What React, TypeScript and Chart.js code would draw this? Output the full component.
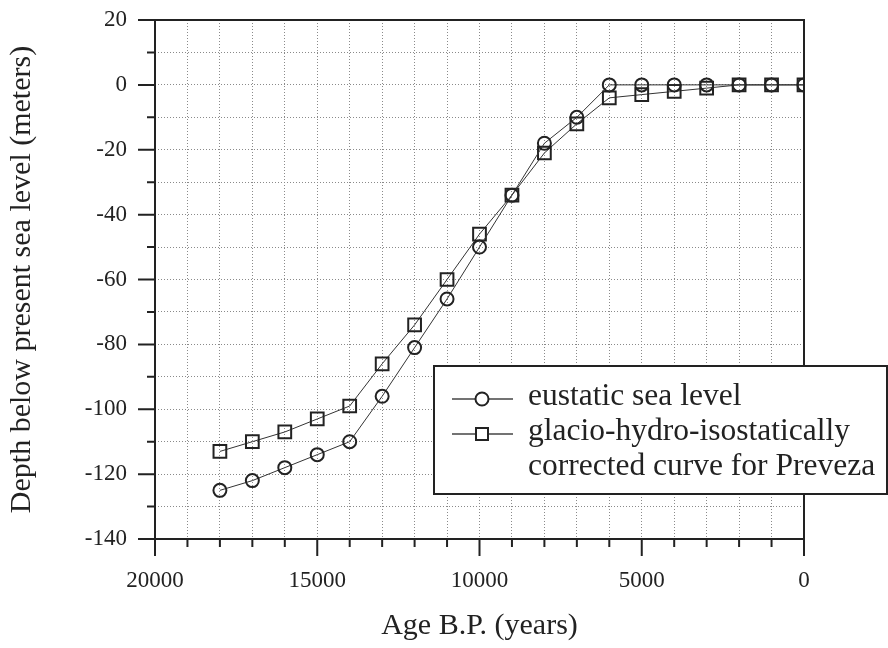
import React, { useEffect, useRef } from 'react';
import { Chart, registerables } from 'chart.js';

Chart.register(...registerables);

const ages = [18000, 17000, 16000, 15000, 14000, 13000, 12000, 11000, 10000, 9000, 8000, 7000, 6000, 5000, 4000, 3000, 2000, 1000, 0];
const eustatic = [-125, -122, -118, -114, -110, -96, -81, -66, -50, -34, -18, -10, 0, 0, 0, 0, 0, 0, 0];
const corrected = [-113, -110, -107, -103, -99, -86, -74, -60, -46, -34, -21, -12, -4, -3, -2, -1, 0, 0, 0];
const xTickLabels = [20000, 15000, 10000, 5000, 0];
const yTickLabels = [20, 0, -20, -40, -60, -80, -100, -120, -140];
const seriesLabels = ['eustatic sea level', 'glacio-hydro-isostatically\ncorrected curve for Preveza'];
const xTitle = 'Age B.P. (years)';
const yTitle = 'Depth below present sea level (meters)';

const FONT = '"Liberation Serif", "Times New Roman", serif';
const INK = '#222';

const framePlugin = {
  id: 'frame',
  afterDatasetsDraw(chart: any) {
    const { ctx, chartArea: a, scales } = chart;
    ctx.save();
    ctx.strokeStyle = INK;
    ctx.lineWidth = 2;
    ctx.strokeRect(a.left, a.top, a.right - a.left, a.bottom - a.top);
    ctx.beginPath();
    scales.x.ticks.forEach((t: any) => {
      const px = scales.x.getPixelForValue(t.value);
      const len = xTickLabels.includes(t.value) ? 17 : 8;
      ctx.moveTo(px, a.bottom);
      ctx.lineTo(px, a.bottom + len);
    });
    scales.y.ticks.forEach((t: any) => {
      const py = scales.y.getPixelForValue(t.value);
      const len = yTickLabels.includes(t.value) ? 17 : 8;
      ctx.moveTo(a.left, py);
      ctx.lineTo(a.left - len, py);
    });
    ctx.stroke();
    ctx.restore();
  },
};

const legendPlugin = {
  id: 'boxLegend',
  afterDraw(chart: any) {
    const { ctx } = chart;
    const box = { left: 434, top: 366, right: 887, bottom: 494 };
    ctx.save();
    ctx.fillStyle = '#fff';
    ctx.fillRect(box.left, box.top, box.right - box.left, box.bottom - box.top);
    ctx.strokeStyle = INK;
    ctx.lineWidth = 2;
    ctx.strokeRect(box.left, box.top, box.right - box.left, box.bottom - box.top);
    ctx.font = `31.5px ${FONT}`;
    ctx.fillStyle = INK;
    ctx.textBaseline = 'middle';
    ctx.textAlign = 'left';
    let row = 0;
    const rowY = (r: number) => 397 + r * 35;
    chart.data.datasets.forEach((ds: any) => {
      const lines = String(ds.label).split('\n');
      const my = rowY(row) + 2;
      ctx.strokeStyle = '#444';
      ctx.lineWidth = 1.5;
      ctx.beginPath();
      ctx.moveTo(452, my);
      ctx.lineTo(513, my);
      ctx.stroke();
      ctx.strokeStyle = INK;
      ctx.lineWidth = 2;
      ctx.fillStyle = '#fff';
      ctx.beginPath();
      if (ds.pointStyle === 'rect') {
        ctx.rect(482 - 6, my - 6, 12, 12);
      } else {
        ctx.arc(482, my, 6.5, 0, Math.PI * 2);
      }
      ctx.fill();
      ctx.stroke();
      ctx.fillStyle = INK;
      lines.forEach((ln: string) => {
        ctx.fillText(ln, 528, rowY(row));
        row += 1;
      });
    });
    ctx.restore();
  },
};

export default function App() {
  const ref = useRef<HTMLCanvasElement | null>(null);
  useEffect(() => {
    if (!ref.current) return;
    const chart = new Chart(ref.current, {
      type: 'line',
      data: {
        datasets: [
          {
            label: seriesLabels[0],
            data: ages.map((a, i) => ({ x: a, y: eustatic[i] })),
            borderColor: '#333',
            borderWidth: 1,
            pointStyle: 'circle',
            pointRadius: 6.5,
            pointBorderWidth: 2,
            pointBorderColor: INK,
            pointBackgroundColor: 'rgba(0,0,0,0)',
            tension: 0,
          },
          {
            label: seriesLabels[1],
            data: ages.map((a, i) => ({ x: a, y: corrected[i] })),
            borderColor: '#333',
            borderWidth: 1,
            pointStyle: 'rect',
            pointRadius: 9,
            pointBorderWidth: 2,
            pointBorderColor: INK,
            pointBackgroundColor: 'rgba(0,0,0,0)',
            tension: 0,
          },
        ],
      },
      options: {
        responsive: false,
        animation: false,
        layout: { padding: { left: 0, top: 20, right: 84, bottom: 0 } },
        plugins: { legend: { display: false }, tooltip: { enabled: false } },
        scales: {
          x: {
            type: 'linear',
            reverse: true,
            min: 0,
            max: 20000,
            afterFit(scale: any) {
              scale.height = 109;
              scale.paddingLeft = 0;
              scale.paddingRight = 0;
            },
            ticks: {
              stepSize: 1000,
              autoSkip: false,
              maxRotation: 0,
              padding: 28,
              color: INK,
              font: { family: FONT, size: 23 },
              callback: (v: any) => (xTickLabels.includes(Number(v)) ? String(v) : ''),
            },
            grid: { color: '#8a8a8a', lineWidth: 1, drawTicks: false },
            border: { display: false, dash: [1, 2] },
            title: {
              display: true,
              text: xTitle,
              color: INK,
              font: { family: FONT, size: 30 },
              padding: { top: 0, bottom: 4 },
            },
          },
          y: {
            type: 'linear',
            min: -140,
            max: 20,
            afterFit(scale: any) {
              scale.width = 155;
              scale.paddingTop = 0;
              scale.paddingBottom = 0;
            },
            ticks: {
              stepSize: 10,
              autoSkip: false,
              padding: 28,
              color: INK,
              font: { family: FONT, size: 23 },
              callback: (v: any) => (yTickLabels.includes(Number(v)) ? String(v) : ''),
            },
            grid: { color: '#8a8a8a', lineWidth: 1, drawTicks: false },
            border: { display: false, dash: [1, 2] },
            title: {
              display: true,
              text: yTitle,
              color: INK,
              font: { family: FONT, size: 30 },
              padding: { top: 4, bottom: 0 },
            },
          },
        },
      },
      plugins: [framePlugin, legendPlugin],
    });
    return () => chart.destroy();
  }, []);
  return (
    <div style={{ position: 'absolute', left: 0, top: 0, width: 888, height: 648, background: '#fff' }}>
      <canvas ref={ref} width={888} height={648} style={{ width: 888, height: 648, display: 'block' }} />
    </div>
  );
}
